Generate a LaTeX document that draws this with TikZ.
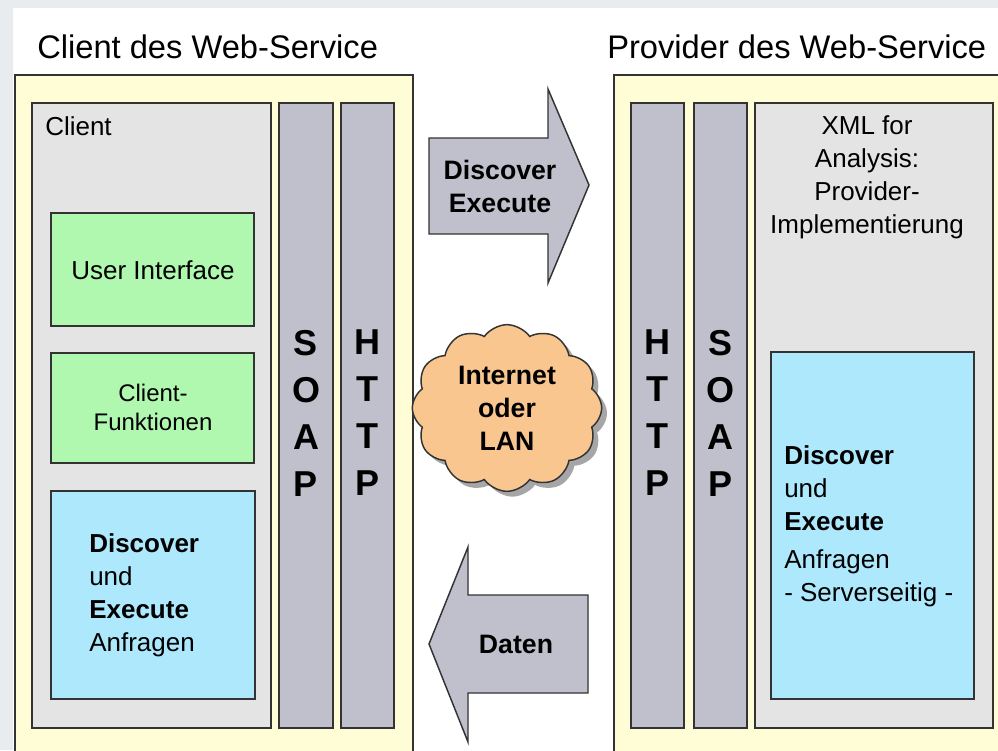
\documentclass[tikz,border=0pt]{standalone}
\usepackage{fontspec}
\setmainfont{Liberation Sans}
\usetikzlibrary{shapes.symbols,shadows}

\definecolor{framegray}{HTML}{E9ECEF}
\definecolor{paleyellow}{HTML}{FFFDD6}
\definecolor{boxgray}{HTML}{E4E4E4}
\definecolor{bargray}{HTML}{BFC0CC}
\definecolor{uigreen}{HTML}{B0F8AF}
\definecolor{reqblue}{HTML}{ADE8FC}
\definecolor{cloudpeach}{HTML}{F9C690}

\tikzset{
  px/.style={x=0.75pt, y=-0.75pt},
  edge/.style={draw=black!80, line width=1.1pt},
  title/.style={font=\fontsize{24.5}{29}\selectfont, inner sep=0pt, anchor=west},
  label/.style={font=\fontsize{19.5}{24.75}\selectfont, inner sep=0pt},
  boldlabel/.style={font=\bfseries\fontsize{20}{24.75}\selectfont, inner sep=0pt},
  barletters/.style={font=\bfseries\fontsize{27}{35.25}\selectfont, inner sep=0pt, align=center},
}

\begin{document}
\begin{tikzpicture}[px]

  % Frame of the page
  \fill[framegray] (0,0) rectangle (998,750);
  \fill[white] (13,8) rectangle (998,750);
  \clip (0,0) rectangle (998,750);

  % Titles
	\node[title] (clienttitle) at (37,47) {Client des Web-Service};
	\node[title] (providertitle) at (607,47) {Provider des Web-Service};

  % Client side
	\draw[edge, fill=paleyellow] (15,75) rectangle (413,770);
	\draw[edge, fill=boxgray] (32,103) rectangle (271,728);
	\draw[edge, fill=bargray] (279,103) rectangle (333,728);
	\draw[edge, fill=bargray] (341,103) rectangle (394,728);
	\draw[edge, fill=uigreen] (51,213) rectangle (254,326);
	\draw[edge, fill=uigreen] (51,353) rectangle (254,463);
	\draw[edge, fill=reqblue] (51,491) rectangle (255,699);

	\node[label, anchor=west] (client) at (45,126) {Client};
	\node[label] (ui) at (153,270) {User Interface};
	\node[label, align=center, font=\fontsize{18}{21.75}\selectfont] (funk) at (153,407) {Client-\\Funktionen};
	\node[label, align=left, anchor=west] (clientreq) at (89,595)
	  {\textbf{Discover}\\und\\\textbf{Execute}\\Anfragen};
	\node[barletters] (soapleft) at (306,413) {S\\O\\A\\P};
	\node[barletters] (httpleft) at (367.5,413) {H\\T\\T\\P};

  % Provider side
	\draw[edge, fill=paleyellow] (614,75) rectangle (1010,770);
	\draw[edge, fill=bargray] (631,103) rectangle (684,728);
	\draw[edge, fill=bargray] (694,103) rectangle (747,728);
	\draw[edge, fill=boxgray] (755,103) rectangle (993,728);
	\draw[edge, fill=reqblue] (771,352) rectangle (974,699);

	\node[label, align=center] (xmla) at (867,177)
	  {XML for\\Analysis:\\Provider-\\Implementierung};
	\node[label, align=left, anchor=west] (providerreq) at (784,526)
	  {\textbf{Discover}\\und\\\textbf{Execute}\\[4pt]Anfragen\\- Serverseitig -};
	\node[barletters] (httpright) at (657.5,413) {H\\T\\T\\P};
	\node[barletters] (soapright) at (720.5,413) {S\\O\\A\\P};

  % Arrows between both sides
	\draw[edge, fill=bargray]
	  (429,138) -- (548,138) -- (548,89) -- (589,185)
	  -- (548,283) -- (548,234) -- (429,234) -- cycle;
	\node[boldlabel, align=center] (request) at (500,186) {Discover\\Execute};

	\draw[edge, fill=bargray]
	  (588,595) -- (468,595) -- (468,547) -- (429,644)
	  -- (468,742) -- (468,693) -- (588,693) -- cycle;
	\node[boldlabel] (data) at (516,644) {Daten};

  % Network in the middle
	\node[cloud, cloud puffs=12, cloud puff arc=110, aspect=1.15,
	  draw=black!80, line width=1.1pt, fill=cloudpeach,
	  drop shadow={shadow xshift=4pt, shadow yshift=-4pt, fill=black!35, opacity=1},
	  minimum width=142pt, minimum height=125pt, inner sep=0pt,
	  boldlabel, align=center] (net) at (507,408) {Internet\\oder\\LAN};

\end{tikzpicture}
\end{document}
